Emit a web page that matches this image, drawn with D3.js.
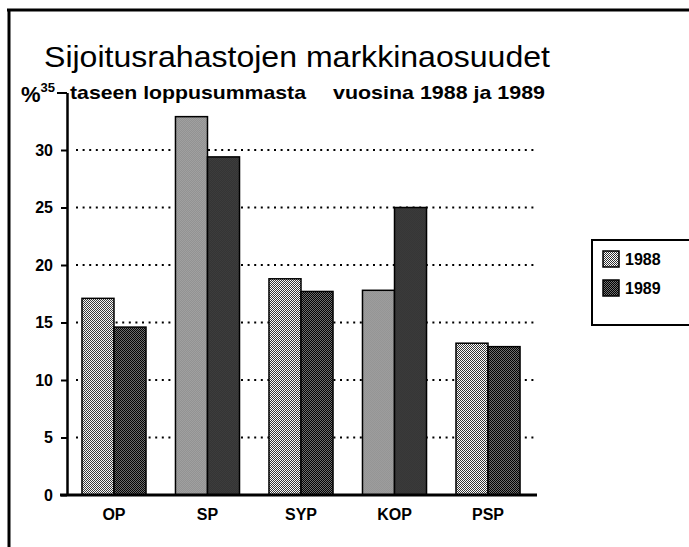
<!DOCTYPE html>
<html>
<head>
<meta charset="utf-8">
<script src="https://cdn.jsdelivr.net/npm/d3@7"></script>
<style>
  body { margin: 0; background: #fff; }
  svg text { font-family: "Liberation Sans", Arial, Helvetica, sans-serif; fill: #000; }
</style>
</head>
<body>
<div class="displayArea"></div>
<script>
const width = 689, height = 547;

var categories = ["OP", "SP", "SYP", "KOP", "PSP"];
var years = ["1988", "1989"];
var share1988 = [17.1, 32.9, 18.8, 17.8, 13.2];
var share1989 = [14.6, 29.4, 17.7, 25.0, 12.9];
var yTicks = [0, 5, 10, 15, 20, 25, 30, 35];

var rows = categories.map(function (c, i) {
    return { cat: c, values: [share1988[i], share1989[i]] };
});

var svg = d3.select(".displayArea")
    .append("svg")
    .attr("width", width)
    .attr("height", height);

// fill patterns (dithered greys like the print)
var defs = svg.append("defs");
function checker(id, a, b) {
    var p = defs.append("pattern").attr("id", id)
        .attr("width", 2).attr("height", 2).attr("patternUnits", "userSpaceOnUse");
    p.append("rect").attr("width", 2).attr("height", 2).attr("fill", b);
    p.append("rect").attr("width", 1).attr("height", 1).attr("fill", a);
    p.append("rect").attr("x", 1).attr("y", 1).attr("width", 1).attr("height", 1).attr("fill", a);
}
checker("p1988", "#333", "#fff");
checker("p1989", "#000", "#707070");

var fills = { "1988": "url(#p1988)", "1989": "url(#p1989)" };

// frame
svg.append("line").attr("x1", 7).attr("x2", width).attr("y1", 10).attr("y2", 10)
    .attr("stroke", "#000").attr("stroke-width", 3);
svg.append("line").attr("x1", 9).attr("x2", 9).attr("y1", 9).attr("y2", height)
    .attr("stroke", "#000").attr("stroke-width", 3);

var yScale = d3.scaleLinear().domain([0, 35]).range([495, 92.5]);

var xScale = d3.scaleBand()
    .domain(categories)
    .range([67, 535])
    .paddingInner(0.315)
    .paddingOuter(0.16);

var xInner = d3.scaleBand().domain(years).range([0, xScale.bandwidth()]);

// dotted grid
svg.append("g")
    .selectAll("line")
    .data(yTicks.filter(function (d) { return d > 0 && d < 35; }))
    .enter()
    .append("line")
    .attr("x1", 76).attr("x2", 536)
    .attr("y1", function (d) { return yScale(d); })
    .attr("y2", function (d) { return yScale(d); })
    .attr("stroke", "#000").attr("stroke-width", 2)
    .attr("stroke-dasharray", "2,4.6");

// bars
var g = svg.append("g").selectAll("g")
    .data(rows)
    .enter()
    .append("g")
    .attr("transform", function (d) { return "translate(" + xScale(d.cat) + ",0)"; });

g.selectAll("rect")
    .data(function (d) { return d.values.map(function (v, i) { return { year: years[i], v: v }; }); })
    .enter()
    .append("rect")
    .attr("x", function (d) { return xInner(d.year); })
    .attr("y", function (d) { return yScale(d.v); })
    .attr("width", xInner.bandwidth())
    .attr("height", function (d) { return yScale(0) - yScale(d.v); })
    .attr("fill", function (d) { return fills[d.year]; })
    .attr("stroke", "#000")
    .attr("stroke-width", 1.5);

// y axis
var yAxis = d3.axisLeft(yScale)
    .tickValues(yTicks)
    .tickSize(6)
    .tickPadding(8)
    .tickSizeOuter(0);

var ya = svg.append("g")
    .attr("transform", "translate(67,0)")
    .call(yAxis);
ya.select(".domain").attr("stroke-width", 2.5);
ya.selectAll(".tick line").attr("stroke-width", 2);
ya.selectAll(".tick text")
    .style("font-size", "16px").style("font-weight", "bold");
var top35 = ya.selectAll(".tick").filter(function (d) { return d === 35; });
top35.select("text")
    .attr("x", -12)
    .attr("dy", "-0.05em")
    .style("font-size", "13px");
top35.select("line").attr("x2", -10);

svg.append("text").attr("x", 21).attr("y", 102)
    .style("font-size", "22px").style("font-weight", "bold").text("%");

// x axis baseline + labels
var xAxis = d3.axisBottom(xScale).tickSize(0).tickPadding(14);
var xa = svg.append("g")
    .attr("transform", "translate(0," + yScale(0) + ")")
    .call(xAxis);
xa.select(".domain").attr("d", "M60,0H537").attr("stroke-width", 3);
xa.selectAll(".tick text")
    .style("font-size", "16px").style("font-weight", "bold");

// titles
svg.append("text").attr("x", 44).attr("y", 67)
    .attr("textLength", 506).attr("lengthAdjust", "spacingAndGlyphs")
    .style("font-size", "29px").text("Sijoitusrahastojen markkinaosuudet");
svg.append("text").attr("x", 70).attr("y", 99)
    .attr("textLength", 236).attr("lengthAdjust", "spacingAndGlyphs")
    .style("font-size", "18.5px").style("font-weight", "bold")
    .text("taseen loppusummasta");
svg.append("text").attr("x", 333).attr("y", 99)
    .attr("textLength", 212).attr("lengthAdjust", "spacingAndGlyphs")
    .style("font-size", "18.5px").style("font-weight", "bold")
    .text("vuosina 1988 ja 1989");

// legend
var lg = svg.append("g");
lg.append("rect").attr("x", 592).attr("y", 240).attr("width", 110).attr("height", 85)
    .attr("fill", "#fff").attr("stroke", "#000").attr("stroke-width", 2);
var li = lg.selectAll("g.item")
    .data(years)
    .enter()
    .append("g")
    .attr("class", "item")
    .attr("transform", function (d, i) { return "translate(603," + (251 + i * 29) + ")"; });
li.append("rect").attr("width", 16).attr("height", 16)
    .attr("fill", function (d) { return fills[d]; })
    .attr("stroke", "#000").attr("stroke-width", 1.5);
li.append("text").attr("x", 22).attr("y", 14)
    .style("font-size", "16px").style("font-weight", "bold")
    .text(function (d) { return d; });
</script>
</body>
</html>
